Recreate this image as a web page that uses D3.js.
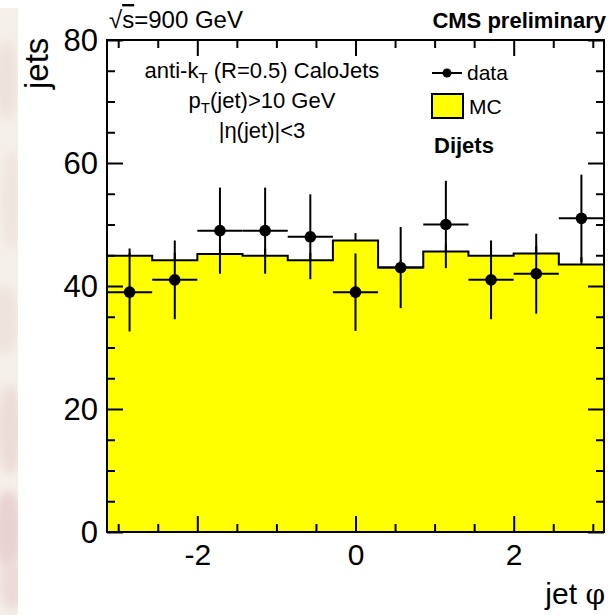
<!DOCTYPE html>
<html>
<head>
<meta charset="utf-8">
<script src="https://cdn.jsdelivr.net/npm/d3@7"></script>
<style>
  html, body { margin: 0; padding: 0; background: #ffffff; }
  svg { display: block; }
  text { font-family: "Liberation Sans", Arial, Helvetica, sans-serif; fill: #000; }
</style>
</head>
<body>
<svg id="chart" width="608" height="615"></svg>
<script>
// Jet azimuth distribution: 11 bins over [-pi, pi]
const binEdgesLo = -Math.PI;
const binEdgesHi = Math.PI;
const nBins = 11;

// Monte Carlo (dijets) expectation per bin
const mcValues = [44.9, 44.2, 45.2, 44.9, 44.2, 47.4, 43.0, 45.6, 44.9, 45.3, 43.5];
const mcErrors = [1.2, 1.2, 1.2, 1.2, 1.2, 1.2, 1.2, 1.2, 1.2, 1.2, 1.2];

// Measured jet counts and statistical errors per bin
const dataValues = [39, 41, 49, 49, 48, 39, 43, 50, 41, 42, 51];
const dataErrors = [6.4, 6.4, 7.0, 7.0, 6.9, 6.3, 6.6, 7.1, 6.4, 6.5, 7.1];

// Axis ticks
const xMajorTicks = [-2, 0, 2];
const xMinorTicks = [-3, -2.5, -1.5, -1, -0.5, 0.5, 1, 1.5, 2.5, 3];
const yMajorTicks = [0, 20, 40, 60, 80];
const yMinorTicks = [5, 10, 15, 25, 30, 35, 45, 50, 55, 65, 70, 75];

const svg = d3.select("#chart");
const W = 608, H = 615;
const plot = { left: 107, right: 604, top: 40, bottom: 532 };

const x = d3.scaleLinear().domain([binEdgesLo, binEdgesHi]).range([plot.left, plot.right]);
const y = d3.scaleLinear().domain([0, 80]).range([plot.bottom, plot.top]);

const binWidth = (binEdgesHi - binEdgesLo) / nBins;
const edge = i => binEdgesLo + i * binWidth;
const centre = i => binEdgesLo + (i + 0.5) * binWidth;

// ---- page background: marbled strip on the left edge ----
const defs = svg.append("defs");
const blur = defs.append("filter").attr("id", "soft").attr("x", "-50%").attr("y", "-50%").attr("width", "200%").attr("height", "200%");
blur.append("feGaussianBlur").attr("stdDeviation", 5);
const clipStrip = defs.append("clipPath").attr("id", "strip");
clipStrip.append("rect").attr("x", 0).attr("y", 8).attr("width", 18).attr("height", H - 8);

const strip = svg.append("g").attr("clip-path", "url(#strip)");
strip.append("rect").attr("x", 0).attr("y", 8).attr("width", 18).attr("height", H - 8).attr("fill", "#f5efea");
const swirls = [
  [6, 80, 12, 40, "#efe2dc"], [12, 200, 10, 50, "#f0e4de"], [4, 320, 14, 35, "#efe3dd"],
  [10, 430, 12, 45, "#ecdcd7"], [8, 530, 14, 40, "#e9d2d1"], [12, 585, 12, 25, "#eddad8"]
];
strip.selectAll("ellipse.sw").data(swirls).join("ellipse")
  .attr("cx", d => d[0]).attr("cy", d => d[1]).attr("rx", d => d[2]).attr("ry", d => d[3])
  .attr("fill", d => d[4]).attr("filter", "url(#soft)");

// ---- plot area ----
svg.append("rect")
  .attr("x", plot.left).attr("y", plot.top)
  .attr("width", plot.right - plot.left).attr("height", plot.bottom - plot.top)
  .attr("fill", "#ffffff");

// MC histogram (step fill + outline)
const stepPts = mcValues.map((v, i) => [edge(i), v]).concat([[edge(nBins), mcValues[nBins - 1]]]);
const area = d3.area().x(d => x(d[0])).y0(y(0)).y1(d => y(d[1])).curve(d3.curveStepAfter);
const line = d3.line().x(d => x(d[0])).y(d => y(d[1])).curve(d3.curveStepAfter);

svg.append("path").datum(stepPts).attr("d", area).attr("fill", "#ffff00");
svg.append("path").datum(stepPts).attr("d", line)
  .attr("fill", "none").attr("stroke", "#000").attr("stroke-width", 2);

// MC statistical error (upper half visible above the fill)
svg.append("g").selectAll("line").data(mcValues).join("line")
  .attr("x1", (d, i) => x(centre(i))).attr("x2", (d, i) => x(centre(i)))
  .attr("y1", d => y(d)).attr("y2", (d, i) => y(d + mcErrors[i]))
  .attr("stroke", "#000").attr("stroke-width", 2);

// Data points with error bars
const dataG = svg.append("g");
dataG.selectAll("line.v").data(dataValues).join("line").attr("class", "v")
  .attr("x1", (d, i) => x(centre(i))).attr("x2", (d, i) => x(centre(i)))
  .attr("y1", (d, i) => y(d - dataErrors[i])).attr("y2", (d, i) => y(d + dataErrors[i]))
  .attr("stroke", "#000").attr("stroke-width", 2);
dataG.selectAll("line.h").data(dataValues).join("line").attr("class", "h")
  .attr("x1", (d, i) => x(edge(i))).attr("x2", (d, i) => x(edge(i + 1)))
  .attr("y1", d => y(d)).attr("y2", d => y(d))
  .attr("stroke", "#000").attr("stroke-width", 2);
dataG.selectAll("circle").data(dataValues).join("circle")
  .attr("cx", (d, i) => x(centre(i))).attr("cy", d => y(d)).attr("r", 5.8)
  .attr("fill", "#000");

// ---- axes: inward ticks on all four sides ----
function tickAxis(axisFn, scale, ticks, size, tx, ty, labels) {
  const ax = axisFn(scale).tickValues(ticks).tickSizeInner(size).tickSizeOuter(0).tickPadding(10);
  if (!labels) ax.tickFormat("");
  const g = svg.append("g").attr("transform", `translate(${tx},${ty})`).call(ax);
  g.select(".domain").remove();
  g.selectAll(".tick line").attr("stroke", "#000").attr("stroke-width", 2);
  return g;
}
const fmt = d => (d < 0 ? "-" : "") + Math.abs(d);

const gxB = tickAxis(d3.axisBottom, x, xMajorTicks, -16, 0, plot.bottom, true);
tickAxis(d3.axisBottom, x, xMinorTicks, -8, 0, plot.bottom, false);
tickAxis(d3.axisTop, x, xMajorTicks, -16, 0, plot.top, false);
tickAxis(d3.axisTop, x, xMinorTicks, -8, 0, plot.top, false);
const gyL = tickAxis(d3.axisLeft, y, yMajorTicks, -16, plot.left, 0, true);
tickAxis(d3.axisLeft, y, yMinorTicks, -8, plot.left, 0, false);
tickAxis(d3.axisRight, y, yMajorTicks, -16, plot.right, 0, false);
tickAxis(d3.axisRight, y, yMinorTicks, -8, plot.right, 0, false);

gxB.selectAll(".tick text").text(fmt)
  .attr("font-size", 30).attr("font-family", "Liberation Sans, Arial, sans-serif")
  .attr("y", 12).attr("dy", "0.71em");
gyL.selectAll(".tick text")
  .attr("font-size", 31).attr("font-family", "Liberation Sans, Arial, sans-serif")
  .attr("x", -9).attr("dy", "0.35em");

// frame
svg.append("rect")
  .attr("x", plot.left).attr("y", plot.top)
  .attr("width", plot.right - plot.left).attr("height", plot.bottom - plot.top)
  .attr("fill", "none").attr("stroke", "#000").attr("stroke-width", 2);

// ---- axis titles ----
svg.append("text").attr("transform", "translate(48,89) rotate(-90)")
  .attr("font-size", 33).text("jets");
const xt = svg.append("text").attr("x", 605).attr("y", 604).attr("text-anchor", "end").attr("font-size", 30);
xt.append("tspan").text("jet ");
xt.append("tspan").attr("font-family", "DejaVu Serif, serif").attr("font-size", 28).text("φ");

// ---- header texts ----
const sq = svg.append("text").attr("x", 109).attr("y", 28).attr("font-size", 24);
sq.append("tspan").text("√");
sq.append("tspan").attr("text-decoration", "overline").text("s");
sq.append("tspan").text("=900 GeV");
svg.append("text").attr("x", 606).attr("y", 28).attr("text-anchor", "end")
  .attr("font-size", 22).attr("font-weight", "bold").text("CMS preliminary");

// ---- selection labels ----
const cx = 262;
const t1 = svg.append("text").attr("x", cx).attr("y", 78).attr("text-anchor", "middle").attr("font-size", 22);
t1.append("tspan").text("anti-k");
t1.append("tspan").attr("font-size", 15).attr("dy", 5).text("T");
t1.append("tspan").attr("dy", -5).text(" (R=0.5) CaloJets");

const t2 = svg.append("text").attr("x", cx).attr("y", 108).attr("text-anchor", "middle").attr("font-size", 22);
t2.append("tspan").text("p");
t2.append("tspan").attr("font-size", 15).attr("dy", 5).text("T");
t2.append("tspan").attr("dy", -5).text("(jet)>10 GeV");

svg.append("text").attr("x", cx).attr("y", 138).attr("text-anchor", "middle").attr("font-size", 22)
  .text("|η(jet)|<3");

// ---- legend ----
const lg = svg.append("g");
lg.append("line").attr("x1", 432).attr("x2", 462).attr("y1", 73).attr("y2", 73)
  .attr("stroke", "#000").attr("stroke-width", 2);
lg.append("circle").attr("cx", 447).attr("cy", 73).attr("r", 4.5).attr("fill", "#000");
lg.append("text").attr("x", 467).attr("y", 80).attr("font-size", 21).text("data");
lg.append("rect").attr("x", 432).attr("y", 94).attr("width", 31).attr("height", 24)
  .attr("fill", "#ffff00").attr("stroke", "#000").attr("stroke-width", 2);
lg.append("text").attr("x", 469).attr("y", 114).attr("font-size", 21).text("MC");
lg.append("text").attr("x", 434).attr("y", 153).attr("font-size", 22).attr("font-weight", "bold").text("Dijets");
</script>
</body>
</html>
